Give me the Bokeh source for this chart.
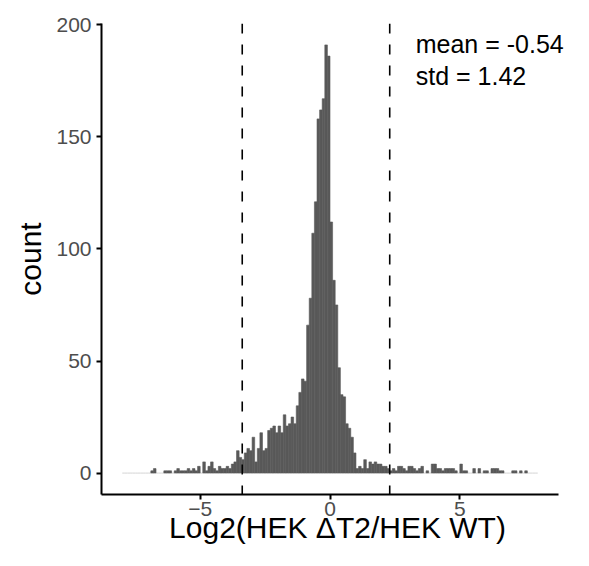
import numpy as np
from bokeh.plotting import figure
from bokeh.models import Range1d, Span, Label, FixedTicker
from bokeh.embed import file_html
from bokeh.resources import INLINE

# ---- data -------------------------------------------------------------
BIN_START = -8.0
BIN_WIDTH = 0.1
COUNTS = [
    # -8.0 .. -7.0
    0, 0, 0, 0, 0, 0, 0, 0, 0, 0, 0,
    # -6.9 .. -6.0
    1, 2, 0, 0, 0, 1, 1, 1, 0, 1,
    # -5.9 .. -5.0
    2, 1, 1, 1, 2, 1, 2, 1, 3, 0,
    # -4.9 .. -4.0
    5, 1, 3, 5, 2, 1, 3, 2, 2, 3,
    # -3.9 .. -3.0
    2, 4, 5, 10, 7, 6, 9, 11, 10, 16,
    # -2.9 .. -2.0
    5, 11, 18, 10, 11, 19, 20, 21, 18, 21,
    # -1.9 .. -1.0
    18, 26, 21, 22, 25, 22, 30, 36, 42, 41,
    # -0.9 .. -0.1
    66, 78, 107, 121, 158, 162, 167, 191, 186,
    # 0.0 .. 0.9
    112, 86, 75, 47, 35, 34, 22, 20, 16, 9,
    # 1.0 .. 1.9
    2, 3, 2, 6, 2, 5, 4, 5, 4, 4,
    # 2.0 .. 2.9
    3, 3, 2, 1, 2, 1, 3, 3, 2, 1,
    # 3.0 .. 3.9
    3, 3, 2, 1, 2, 3, 0, 1, 0, 4,
    # 4.0 .. 4.9
    4, 2, 2, 1, 2, 2, 2, 2, 1, 0,
    # 5.0 .. 5.9
    4, 1, 1, 0, 0, 2, 0, 2, 0, 1,
    # 6.0 .. 6.9
    1, 0, 2, 2, 2, 1, 1, 0, 0, 0,
    # 7.0 .. 7.9
    1, 1, 0, 1, 0, 1, 0, 0, 0, 0,
]
MEAN = -0.54
STD = 1.42
X_TICKS = [-5, 0, 5]
X_TICK_LABELS = {-5: "\u22125", 0: "0", 5: "5"}
Y_TICKS = [0, 50, 100, 150, 200]

# ---- layout -----------------------------------------------------------
FIG_W, FIG_H = 573, 550
BORDER_LEFT, BORDER_TOP, BORDER_BOTTOM = 101, 23, 56
PANEL_W = 457            # width of the drawn axis (ggplot panel)
FONT = "Liberation Sans"

# ---- derived ----------------------------------------------------------
counts = np.array(COUNTS, dtype=float)
left = BIN_START + BIN_WIDTH * np.arange(len(counts))
right = left + BIN_WIDTH
nz = counts > 0

x_lo, x_hi = left[0], right[-1]
x_pad = 0.05 * (x_hi - x_lo)
panel_lo, panel_hi = x_lo - x_pad, x_hi + x_pad
frame_w = FIG_W - BORDER_LEFT
extra_units = (frame_w - PANEL_W) * (panel_hi - panel_lo) / PANEL_W
y_pad = 0.05 * counts.max()

p = figure(
    width=FIG_W, height=FIG_H,
    output_backend="svg", toolbar_location=None,
    x_range=Range1d(panel_lo, panel_hi + extra_units),
    y_range=Range1d(-y_pad, counts.max() + y_pad),
    min_border_left=BORDER_LEFT, min_border_right=0,
    min_border_top=BORDER_TOP, min_border_bottom=BORDER_BOTTOM,
)
p.grid.visible = False
p.outline_line_color = None
p.background_fill_color = "white"
p.border_fill_color = "white"

# faint baseline of empty bins
p.segment(x0=left[~nz], x1=right[~nz], y0=0, y1=0,
          line_color="#d4d4d4", line_width=1)

p.quad(left=left[nz], right=right[nz], bottom=0, top=counts[nz],
       fill_color="#595959", line_color="#595959", line_width=0.6)

for loc in (MEAN - 2 * STD, MEAN + 2 * STD):
    p.add_layout(Span(location=loc, dimension="height", line_color="black",
                      line_dash="10 11", line_width=1.6))

p.add_layout(Label(x=3.3, y=191.5, text=f"mean = {MEAN}",
                   text_font=FONT, text_font_size="25px",
                   text_baseline="middle", text_align="left",
                   text_color="black"))
p.add_layout(Label(x=3.3, y=177, text=f"std = {STD}",
                   text_font=FONT, text_font_size="25px",
                   text_baseline="middle", text_align="left",
                   text_color="black"))

p.xaxis.ticker = FixedTicker(ticks=X_TICKS)
p.xaxis.major_label_overrides = X_TICK_LABELS
p.xaxis.bounds = (panel_lo, panel_hi)
p.yaxis.ticker = FixedTicker(ticks=Y_TICKS)

for ax in (p.xaxis[0], p.yaxis[0]):
    ax.axis_line_width = 2
    ax.axis_line_color = "black"
    ax.major_tick_line_width = 2
    ax.major_tick_line_color = "black"
    ax.major_tick_in = 0
    ax.major_tick_out = 5
    ax.minor_tick_line_color = None
    ax.major_label_text_font = FONT
    ax.major_label_text_font_size = "21px"
    ax.major_label_text_color = "#4d4d4d"
    ax.axis_label_text_font = FONT
    ax.axis_label_text_font_style = "normal"
    ax.axis_label_text_color = "black"

p.xaxis.major_label_standoff = 2
p.xaxis.axis_label_standoff = -8
p.xaxis.axis_label_text_font_size = "30px"
p.yaxis.major_label_standoff = 5
p.yaxis.axis_label_standoff = 6
p.yaxis.axis_label_text_font_size = "30px"

p.xaxis.axis_label = "Log2(HEK \u0394T2/HEK WT)"
p.yaxis.axis_label = "count"

open("out.html", "w").write(file_html(p, INLINE))
